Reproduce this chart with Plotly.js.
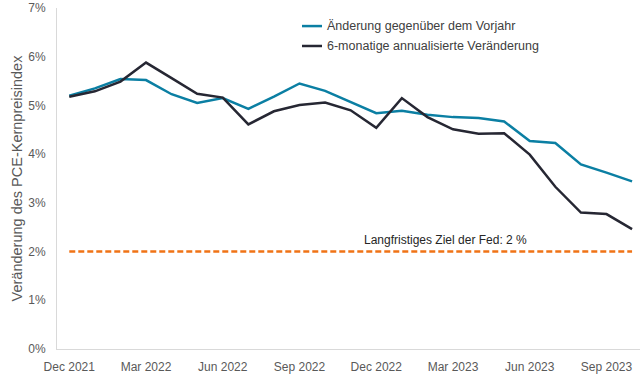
<!DOCTYPE html>
<html>
<head>
<meta charset="utf-8">
<script src="https://cdn.plot.ly/plotly-3.0.1.min.js"></script>
<style>
html,body{margin:0;padding:0;background:#fff;}
#chart{width:640px;height:375px;}
</style>
</head>
<body>
<div id="chart"></div>
<script>
const months = ["Dec 2021","Jan 2022","Feb 2022","Mar 2022","Apr 2022","May 2022","Jun 2022","Jul 2022","Aug 2022","Sep 2022","Oct 2022","Nov 2022","Dec 2022","Jan 2023","Feb 2023","Mar 2023","Apr 2023","May 2023","Jun 2023","Jul 2023","Aug 2023","Sep 2023","Oct 2023"];
const yoyChange = [5.20,5.35,5.54,5.52,5.23,5.05,5.15,4.93,5.18,5.45,5.30,5.07,4.84,4.89,4.81,4.76,4.74,4.67,4.27,4.23,3.79,3.62,3.44];
const sixMonthAnnualized = [5.18,5.29,5.49,5.88,5.56,5.24,5.16,4.61,4.88,5.01,5.06,4.90,4.54,5.15,4.76,4.51,4.42,4.43,3.99,3.33,2.80,2.77,2.46];
const fedTarget = 2;
const tickLabels = ["Dec 2021","Mar 2022","Jun 2022","Sep 2022","Dec 2022","Mar 2023","Jun 2023","Sep 2023"];
const seriesNames = ["Änderung gegenüber dem Vorjahr","6-monatige annualisierte Veränderung"];
const seriesColors = ["#0B7FA3","#262733"];

const FONT = "Liberation Sans, Arial, sans-serif";

const traces = [
  {x: months, y: yoyChange, name: seriesNames[0], type: "scatter", mode: "lines",
   line: {color: seriesColors[0], width: 2.5}},
  {x: months, y: sixMonthAnnualized, name: seriesNames[1], type: "scatter", mode: "lines",
   line: {color: seriesColors[1], width: 2.5}},
  {x: [months[0], months[months.length-1]], y: [fedTarget, fedTarget], type: "scatter", mode: "lines",
   line: {color: "#F07316", width: 2.5, dash: "6px,3px"}}
];

// custom legend (short line samples like the reference)
const legRows = [0.947, 0.8886];
const shapes = [];
const annotations = [];
seriesNames.forEach((nm, i) => {
  shapes.push({type: "line", xref: "paper", yref: "paper", x0: 0.4202, x1: 0.4545, y0: legRows[i], y1: legRows[i],
               line: {color: seriesColors[i], width: 2.5}});
  annotations.push({xref: "paper", yref: "paper", x: 0.4597, y: legRows[i], xanchor: "left", yanchor: "middle",
                    showarrow: false, text: nm, font: {family: FONT, size: 12.5, color: "#404040"}});
});
annotations.push({x: 14.7, y: fedTarget, xref: "x", yref: "y", yshift: 12, showarrow: false,
  text: "Langfristiges Ziel der Fed: 2 %", font: {family: FONT, size: 12, color: "#262626"}});

const layout = {
  width: 640, height: 375,
  margin: {l: 57, r: 0, t: 8, b: 26},
  paper_bgcolor: "#fff", plot_bgcolor: "#fff",
  font: {family: FONT, size: 12, color: "#595959"},
  showlegend: false,
  xaxis: {type: "category", range: [-0.48, 22.31], tickmode: "array", tickvals: tickLabels, ticktext: tickLabels,
          showgrid: false, zeroline: false, showline: true, linecolor: "#D9D9D9", linewidth: 1,
          ticks: "", ticklabelstandoff: 7, tickfont: {family: FONT, size: 12, color: "#595959"}},
  yaxis: {range: [0, 7], dtick: 1, tick0: 0, ticksuffix: "%", showgrid: false, zeroline: false,
          showline: true, linecolor: "#D9D9D9", linewidth: 1, ticks: "", ticklabelstandoff: 8,
          tickfont: {family: FONT, size: 12, color: "#595959"},
          title: {text: "Veränderung des PCE-Kernpreisindex", font: {family: FONT, size: 14.5, color: "#595959"}, standoff: 2}},
  shapes: shapes,
  annotations: annotations
};

Plotly.newPlot("chart", traces, layout, {displayModeBar: false, staticPlot: true});
</script>
</body>
</html>
